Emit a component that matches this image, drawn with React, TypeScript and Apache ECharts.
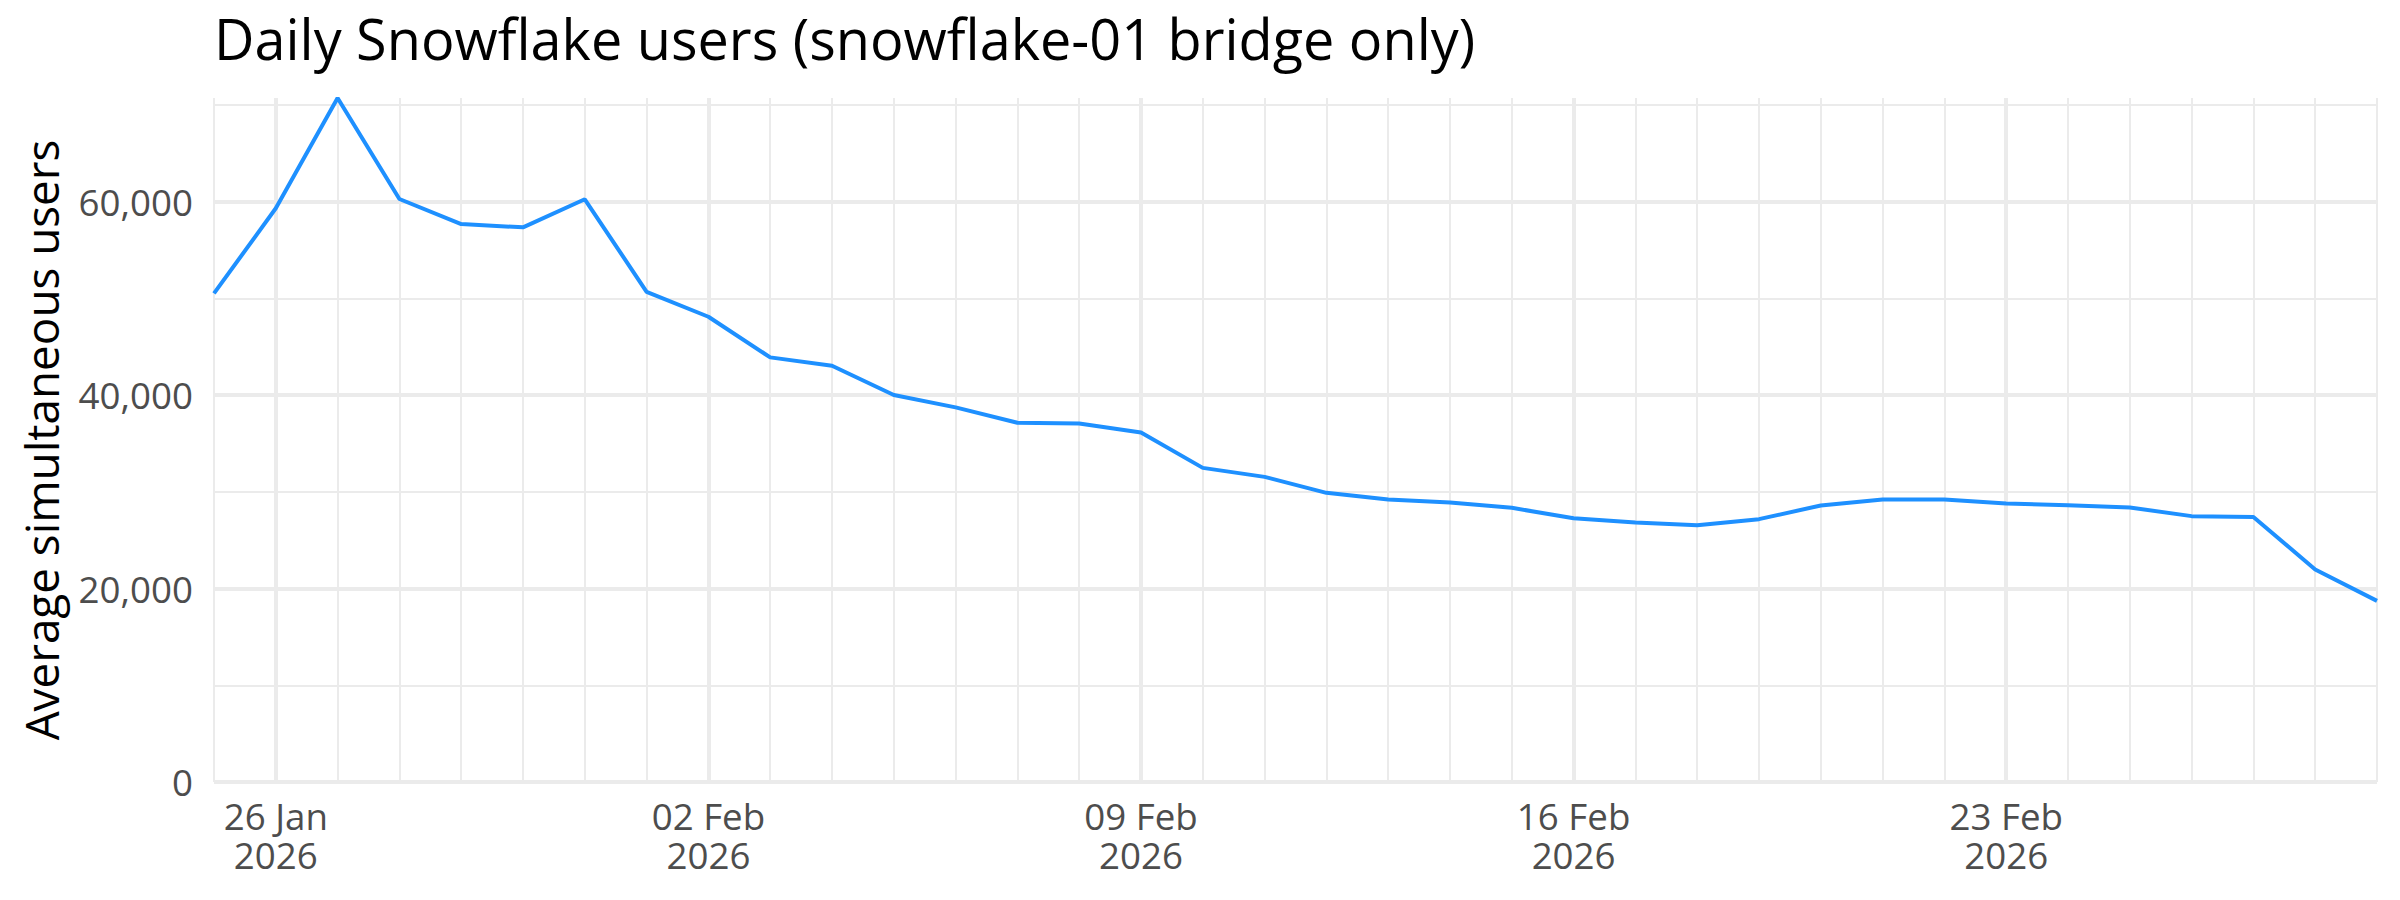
import React, { useEffect, useRef } from 'react';
import * as echarts from 'echarts';

// one point per day, 25 Jan 2026 .. 01 Mar 2026
const days = [
  '2026-01-25', '2026-01-26', '2026-01-27', '2026-01-28', '2026-01-29', '2026-01-30', '2026-01-31',
  '2026-02-01', '2026-02-02', '2026-02-03', '2026-02-04', '2026-02-05', '2026-02-06', '2026-02-07',
  '2026-02-08', '2026-02-09', '2026-02-10', '2026-02-11', '2026-02-12', '2026-02-13', '2026-02-14',
  '2026-02-15', '2026-02-16', '2026-02-17', '2026-02-18', '2026-02-19', '2026-02-20', '2026-02-21',
  '2026-02-22', '2026-02-23', '2026-02-24', '2026-02-25', '2026-02-26', '2026-02-27', '2026-02-28',
  '2026-03-01'
];

const avgUsers = [
  50500, 59300, 70700, 60260, 57670, 57330, 60230,
  50670, 48090, 43890, 43020, 40000, 38720, 37130,
  37060, 36120, 32470, 31540, 29890, 29200, 28890,
  28340, 27270, 26820, 26550, 27170, 28580, 29200,
  29200, 28790, 28610, 28370, 27480, 27400, 21960,
  18720
];

// weekly breaks (Mondays) and their labels
const weekTicks = ['2026-01-26', '2026-02-02', '2026-02-09', '2026-02-16', '2026-02-23'];
const weekLabels = ['26 Jan\n2026', '02 Feb\n2026', '09 Feb\n2026', '16 Feb\n2026', '23 Feb\n2026'];

const FONT = '"Open Sans", "Noto Sans", sans-serif';
const GRID = '#EBEBEB';

const App: React.FC = () => {
  const chartRef = useRef<HTMLDivElement>(null);

  useEffect(() => {
    document.body.style.margin = '0';
    if (!chartRef.current) return;
    const chart = echarts.init(chartRef.current, null, { renderer: 'svg' });

    const isWeek = (i: number) => weekTicks.indexOf(days[i]) >= 0;

    const option: echarts.EChartsOption = {
      animation: false,
      backgroundColor: '#ffffff',
      textStyle: { fontFamily: FONT },
      title: {
        text: 'Daily Snowflake users (snowflake-01 bridge only)',
        left: 214,
        top: 10,
        padding: 0,
        textStyle: { fontFamily: FONT, fontSize: 55.8, fontWeight: 'normal', color: '#000000' }
      },
      grid: { left: 214, right: 23, top: 98, bottom: 118, containLabel: false },
      xAxis: [
        {
          type: 'category',
          data: days,
          boundaryGap: false,
          axisLine: { show: false },
          axisTick: { show: false },
          axisLabel: {
            interval: (i: number) => isWeek(i),
            formatter: (v: string) => {
              const k = weekTicks.indexOf(v);
              return k >= 0 ? weekLabels[k] : '';
            },
            fontFamily: FONT,
            fontSize: 36.7,
            lineHeight: 39,
            color: '#4D4D4D',
            margin: 14
          },
          splitLine: {
            show: true,
            interval: (i: number) => isWeek(i),
            lineStyle: { color: GRID, width: 4 }
          },
          z: 1
        },
        {
          type: 'category',
          data: days,
          boundaryGap: false,
          position: 'bottom',
          axisLine: { show: false },
          axisTick: { show: false },
          axisLabel: { show: false },
          splitLine: { show: true, interval: 0, lineStyle: { color: GRID, width: 2 } },
          z: 0
        }
      ],
      yAxis: {
        type: 'value',
        min: 0,
        max: Math.max(...avgUsers),
        interval: 20000,
        name: 'Average simultaneous users',
        nameLocation: 'middle',
        nameRotate: 90,
        nameGap: 150,
        nameTextStyle: { fontFamily: FONT, fontSize: 45.8, color: '#000000' },
        axisLine: { show: false },
        axisTick: { show: false },
        axisLabel: {
          showMaxLabel: false,
          fontFamily: FONT,
          fontSize: 36.7,
          color: '#4D4D4D',
          margin: 21
        },
        splitLine: { show: true, showMaxLine: false, lineStyle: { color: GRID, width: 4 } },
        minorTick: { show: false, splitNumber: 2 },
        minorSplitLine: { show: true, lineStyle: { color: GRID, width: 2 } }
      },
      series: [
        {
          type: 'line',
          data: avgUsers,
          xAxisIndex: 0,
          showSymbol: false,
          clip: false,
          lineStyle: { color: '#1E90FF', width: 4 },
          itemStyle: { color: '#1E90FF' }
        }
      ]
    };

    chart.setOption(option);
    return () => {
      chart.dispose();
    };
  }, []);

  return <div ref={chartRef} style={{ width: 2400, height: 900 }} />;
};

export default App;
